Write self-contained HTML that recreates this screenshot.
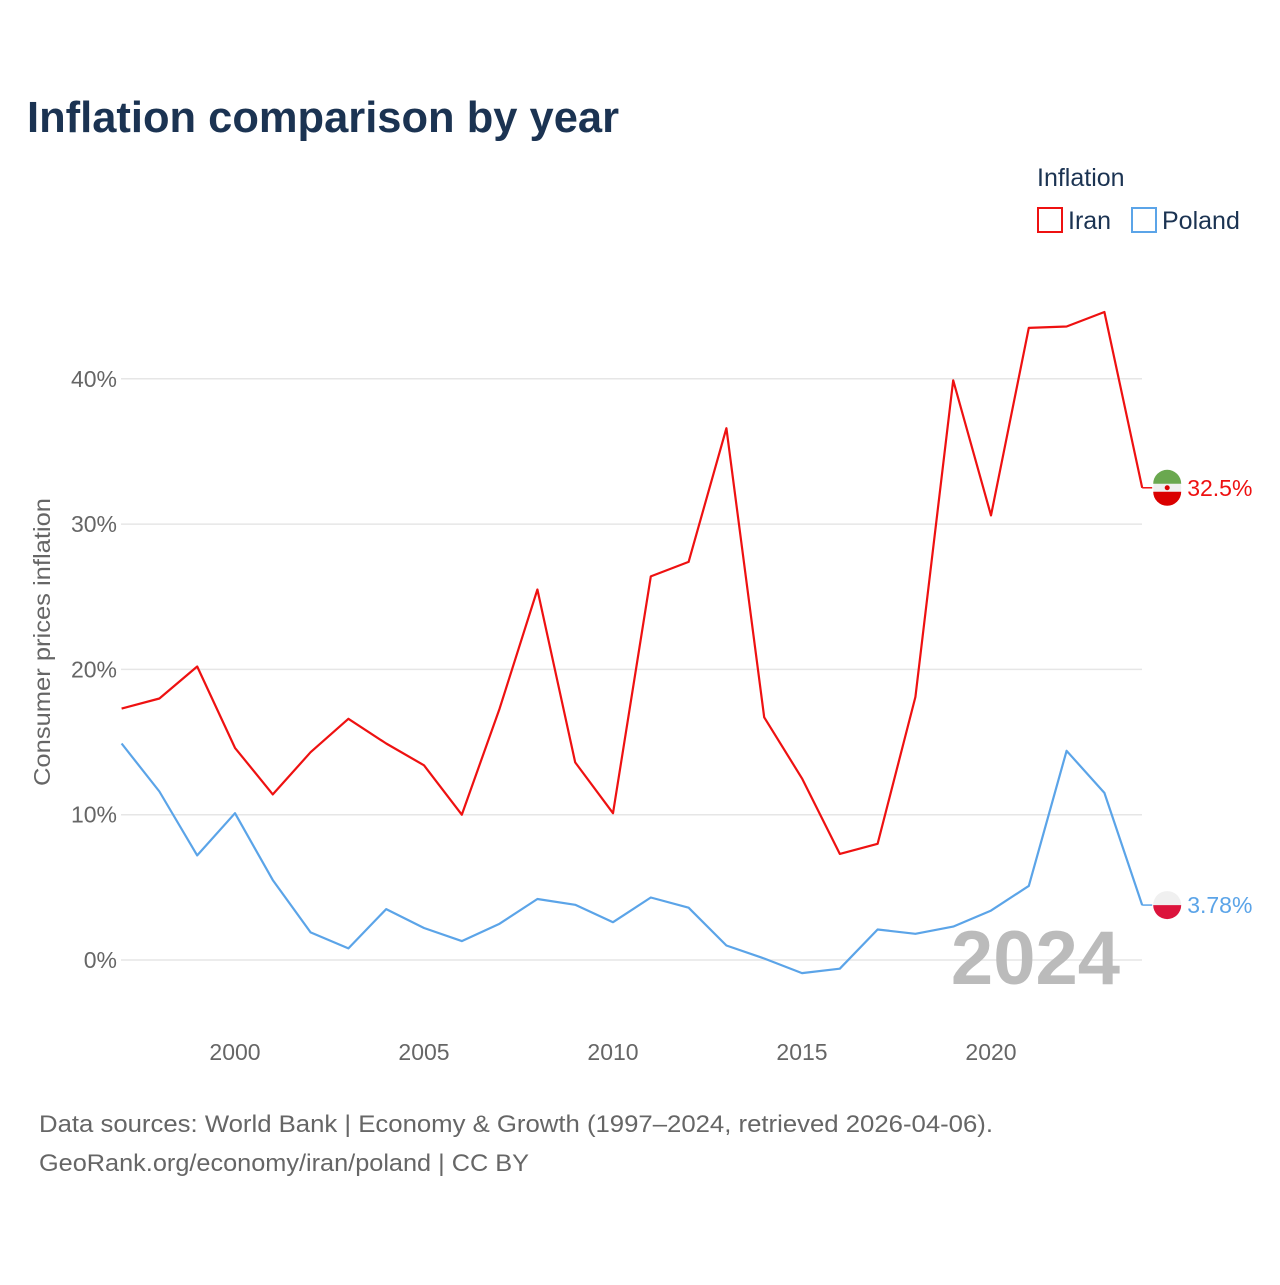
<!DOCTYPE html>
<html><head><meta charset="utf-8"><style>
body{margin:0;background:#fff;font-family:"Liberation Sans",sans-serif}
</style></head><body>
<svg width="1280" height="1280" xmlns="http://www.w3.org/2000/svg" font-family="Liberation Sans, sans-serif">
<rect width="1280" height="1280" fill="#fff"/>
<text x="27" y="132" font-size="44" font-weight="bold" fill="#1b3352" textLength="592" lengthAdjust="spacingAndGlyphs">Inflation comparison by year</text>
<text x="1037" y="186" font-size="25" fill="#1b3352">Inflation</text>
<g><rect x="1038" y="208" width="24" height="24" fill="none" stroke="#ee1111" stroke-width="2"/><text x="1068" y="229" font-size="25" fill="#1b3352">Iran</text></g>
<g><rect x="1132" y="208" width="24" height="24" fill="none" stroke="#5ba4e8" stroke-width="2"/><text x="1162" y="229" font-size="25" fill="#1b3352">Poland</text></g>
<g id="grid"></g>
<g id="yt"></g>
<g id="xt"></g>
<text transform="translate(50,642) rotate(-90)" text-anchor="middle" font-size="23" fill="#666" textLength="288" lengthAdjust="spacingAndGlyphs">Consumer prices inflation</text>
<text x="1120" y="984" text-anchor="end" font-size="76" font-weight="bold" fill="#bbb">2024</text>
<g id="series"></g>
<text x="39" y="1132" font-size="24" fill="#666" textLength="954" lengthAdjust="spacingAndGlyphs">Data sources: World Bank | Economy &amp; Growth (1997–2024, retrieved 2026-04-06).</text>
<text x="39" y="1171" font-size="24" fill="#666" textLength="490" lengthAdjust="spacingAndGlyphs">GeoRank.org/economy/iran/poland | CC BY</text>
</svg>
<script>
const years=[1997,1998,1999,2000,2001,2002,2003,2004,2005,2006,2007,2008,2009,2010,2011,2012,2013,2014,2015,2016,2017,2018,2019,2020,2021,2022,2023,2024];
const iran=[17.3,18.0,20.2,14.6,11.4,14.3,16.6,14.9,13.4,10.0,17.3,25.5,13.6,10.1,26.4,27.4,36.6,16.7,12.5,7.3,8.0,18.1,39.9,30.6,43.5,43.6,44.6,32.5];
const poland=[14.9,11.6,7.2,10.1,5.5,1.9,0.8,3.5,2.2,1.3,2.5,4.2,3.8,2.6,4.3,3.6,1.0,0.1,-0.9,-0.6,2.1,1.8,2.3,3.4,5.1,14.4,11.5,3.78];
const yTicks=[0,10,20,30,40];
const xTicks=[2000,2005,2010,2015,2020];
const NS="http://www.w3.org/2000/svg";
const X=y=>121.6+(y-1997)*37.8;
const Y=v=>960-v*14.53;
function mk(t,a,p){const e=document.createElementNS(NS,t);for(const k in a)e.setAttribute(k,a[k]);p.appendChild(e);return e;}
const grid=document.getElementById('grid'),yt=document.getElementById('yt'),xt=document.getElementById('xt'),ser=document.getElementById('series');
yTicks.forEach(v=>{
 const l=mk('line',{x1:121,x2:1142,y1:Y(v),y2:Y(v),stroke:'#e6e6e6','stroke-width':1.5},grid);
 
 
 const t=mk('text',{x:117,y:Y(v)+8,'text-anchor':'end','font-size':23,fill:'#666'},yt);t.textContent=v+'%';
 
 
});
xTicks.forEach(v=>{
 const t=mk('text',{x:X(v),y:1060,'text-anchor':'middle','font-size':23,fill:'#666'},xt);t.textContent=v;
 
 
});
function series(vals,color,name){
 const d=vals.map((v,i)=>(i?'L':'M')+X(years[i]).toFixed(1)+','+Y(v).toFixed(1)).join('');
 const p=mk('path',{d:d,fill:'none',stroke:color,'stroke-width':2.2,'stroke-linejoin':'round'},ser);
 
 
 const last=vals[vals.length-1],lx=X(2024),ly=Y(last);
 const s=mk('line',{x1:lx,x2:lx+10,y1:ly,y2:ly,stroke:color,'stroke-width':1.5},ser);
 
 
 const g=mk('g',{},ser);
 
 
 const cx=lx+25;
 if(name==='iran'){
  mk('circle',{cx:cx,cy:ly,r:14,fill:'#f0f0f0'},g);
  mk('path',{d:`M${cx-14},${ly-4}A14,14 0 0 1 ${cx+14},${ly-4}Z`,fill:'#6aa84f'},g);
  mk('path',{d:`M${cx-14},${ly+4}A14,14 0 0 0 ${cx+14},${ly+4}Z`,fill:'#da0000'},g);
  mk('circle',{cx:cx,cy:ly,r:2.5,fill:'#da0000'},g);
 }else{
  mk('circle',{cx:cx,cy:ly,r:14,fill:'#f0f0f0'},g);
  mk('path',{d:`M${cx-14},${ly}A14,14 0 0 0 ${cx+14},${ly}Z`,fill:'#dc143c'},g);
 }
 const lbl=last>=10?last.toFixed(1):last.toFixed(2);
 const t=mk('text',{x:cx+20,y:ly+8,'font-size':23,fill:color},ser);t.textContent=lbl+'%';
 
 
}
series(iran,'#ee1111','iran');
series(poland,'#5ba4e8','poland');
</script>
</body></html>
